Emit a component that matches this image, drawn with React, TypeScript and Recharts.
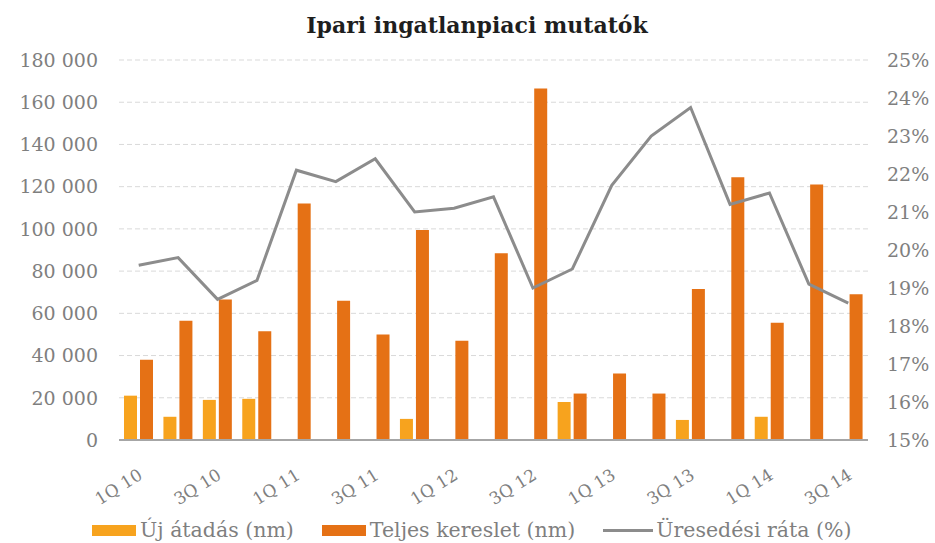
import React from "react";
import { Bar, CartesianGrid, ComposedChart, Line, XAxis, YAxis } from "recharts";

const quarters = [
  "1Q 10", "2Q 10", "3Q 10", "4Q 10",
  "1Q 11", "2Q 11", "3Q 11", "4Q 11",
  "1Q 12", "2Q 12", "3Q 12", "4Q 12",
  "1Q 13", "2Q 13", "3Q 13", "4Q 13",
  "1Q 14", "2Q 14", "3Q 14",
];

// Új átadás (nm)
const newSupply = [21000, 11000, 19000, 19500, null, null, null, 10000, null, null, null, 18000, null, null, 9500, null, 11000, null, null];
// Teljes kereslet (nm)
const totalDemand = [38000, 56500, 66500, 51500, 112000, 66000, 50000, 99500, 47000, 88500, 166500, 22000, 31500, 22000, 71500, 124500, 55500, 121000, 69000];
// Üresedési ráta (%)
const vacancy = [19.6, 19.8, 18.7, 19.2, 22.1, 21.8, 22.4, 21.0, 21.1, 21.4, 19.0, 19.5, 21.7, 23.0, 23.75, 21.2, 21.5, 19.1, 18.6];

const leftTicks = [0, 20000, 40000, 60000, 80000, 100000, 120000, 140000, 160000, 180000];
const rightTicks = [15, 16, 17, 18, 19, 20, 21, 22, 23, 24, 25];

const legendItems = [
  { label: "Új átadás (nm)", color: "#F7A31E", kind: "rect" },
  { label: "Teljes kereslet (nm)", color: "#E57115", kind: "rect" },
  { label: "Üresedési ráta (%)", color: "#8C8C8C", kind: "line" },
];

const data = quarters.map((q, i) => ({
  quarter: q,
  newSupply: newSupply[i],
  totalDemand: totalDemand[i],
  vacancy: vacancy[i],
}));

const TEXT = "#7F7F7F";
const FONT = "'DejaVu Serif', Georgia, serif";

function fmtThousands(v: number) {
  return String(v).replace(/\B(?=(\d{3})+(?!\d))/g, " ");
}

function QuarterTick(props: any) {
  const { x, y, payload } = props;
  return (
    <g transform={`translate(${x + 5},${y + 30})`}>
      <text textAnchor="end" transform="rotate(-32)" fill={TEXT} fontSize={17} fontFamily={FONT}>
        {payload.value}
      </text>
    </g>
  );
}

export default function App() {
  return (
    <div style={{ position: "absolute", left: 0, top: 0, width: 935, height: 543, background: "#fff" }}>
      <div
        style={{
          position: "absolute",
          left: 0,
          width: 954,
          top: 12,
          textAlign: "center",
          fontFamily: FONT,
          fontWeight: 700,
          fontSize: 22,
          color: "#1E1E1E",
        }}
      >
        Ipari ingatlanpiaci mutatók
      </div>

      <ComposedChart
        width={935}
        height={543}
        data={data}
        margin={{ top: 60, right: 0, bottom: 0, left: 0 }}
        barCategoryGap={5}
        barGap={3}
      >
        <CartesianGrid vertical={false} yAxisId="left" stroke="#D9D9D9" strokeDasharray="5 3" />
        <XAxis
          dataKey="quarter"
          height={103}
          interval={1}
          tickLine={false}
          axisLine={{ stroke: "#A6A6A6", strokeWidth: 2 }}
          tick={<QuarterTick />}
        />
        <YAxis
          yAxisId="left"
          width={119}
          domain={[0, 180000]}
          ticks={leftTicks}
          tickFormatter={fmtThousands}
          axisLine={false}
          tickLine={false}
          tickMargin={15}
          tick={{ fill: TEXT, fontSize: 19, fontFamily: FONT }}
        />
        <YAxis
          yAxisId="right"
          orientation="right"
          width={67}
          domain={[15, 25]}
          ticks={rightTicks}
          tickFormatter={(v: number) => `${v}%`}
          axisLine={false}
          tickLine={false}
          tickMargin={13}
          tick={{ fill: TEXT, fontSize: 19, fontFamily: FONT }}
        />
        <Bar yAxisId="left" dataKey="newSupply" name="Új átadás (nm)" fill="#F7A31E" isAnimationActive={false} />
        <Bar yAxisId="left" dataKey="totalDemand" name="Teljes kereslet (nm)" fill="#E57115" isAnimationActive={false} />
        <Line
          yAxisId="right"
          dataKey="vacancy"
          name="Üresedési ráta (%)"
          stroke="#8C8C8C"
          strokeWidth={3}
          dot={false}
          activeDot={false}
          isAnimationActive={false}
        />
      </ComposedChart>

      <div
        style={{
          position: "absolute",
          left: 92,
          top: 518,
          display: "flex",
          alignItems: "center",
          fontFamily: FONT,
          fontSize: 20.5,
          color: TEXT,
          whiteSpace: "nowrap",
        }}
      >
        {legendItems.map((item, i) => (
          <div key={item.label} style={{ display: "flex", alignItems: "center", marginRight: i < 2 ? 28 : 0 }}>
            {item.kind === "rect" ? (
              <span style={{ display: "inline-block", width: 44, height: 11, background: item.color, marginRight: 4 }} />
            ) : (
              <span style={{ display: "inline-block", width: 50, height: 3, background: item.color, marginRight: 3 }} />
            )}
            <span>{item.label}</span>
          </div>
        ))}
      </div>
    </div>
  );
}
